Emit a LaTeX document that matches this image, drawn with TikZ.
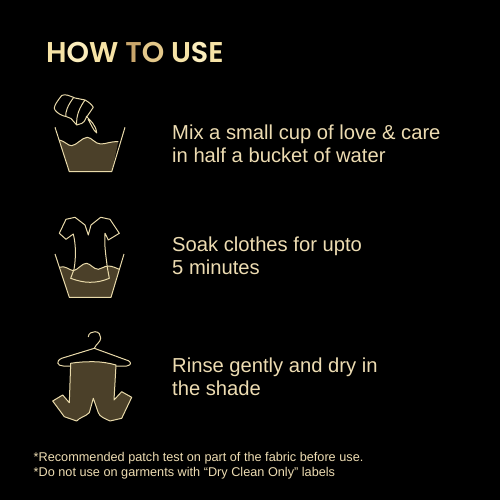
\documentclass[tikz,border=0pt]{standalone}
\usepackage{fontspec}
\setmainfont{Liberation Sans}
\newfontfamily\titlefont{Poppins SemiBold}
\usetikzlibrary{calc}
\definecolor{cream}{HTML}{EDDCB2}
\definecolor{iconline}{HTML}{E9DAAA}
\definecolor{water}{HTML}{4B4029}
\definecolor{goldA}{HTML}{F6E3A6}
\definecolor{goldB}{HTML}{FBEDBC}
\definecolor{goldC}{HTML}{C9A66B}
\definecolor{goldD}{HTML}{E4C88A}
\tikzset{
    steptext/.style={anchor=base west, align=left, text=cream, font=\fontsize{20.2}{22.4}\selectfont},
    notetext/.style={anchor=base west, text=cream, font=\fontsize{12.7}{16}\selectfont},
    iconstroke/.style={draw=iconline, line width=1pt, line join=round},
    iconfill/.style={iconstroke, fill=water}
}
\begin{document}
\begin{tikzpicture}[x=1pt, y=-1pt]
    \fill[black] (0,0) rectangle (500,500);
    \useasboundingbox (0,0) rectangle (500,500);

    % Title
    \node[anchor=base west, inner sep=0pt, font=\titlefont\fontsize{28.6}{30}\selectfont] (title) at (46,63)
        {\textcolor{goldA}{H}\textcolor{goldB}{O}\textcolor{goldA}{W} \textcolor{goldC}{T}\textcolor{goldD}{O} \textcolor{goldA}{U}\textcolor{goldB}{S}\textcolor{goldA}{E}};

    % Step texts (base is the last line)
    \node[steptext, inner sep=0pt] (mix) at (172,162.3) {Mix a small cup of love \& care\\in half a bucket of water};
    \node[steptext, inner sep=0pt] (soak) at (172,274.3) {Soak clothes for upto\\5 minutes};
    \node[steptext, inner sep=0pt] (rinse) at (172,395.3) {Rinse gently and dry in\\the shade};

    % Footnotes
    \node[notetext, inner sep=0pt] (note1) at (33.5,461) {*Recommended patch test on part of the fabric before use.};
    \node[notetext, inner sep=0pt] (note2) at (33.5,476.7) {*Do not use on garments with “Dry Clean Only” labels};

    % Bucket with cup
    \fill[water] (59.3,140) .. controls (65,141) and (68,146) .. (71.7,145.7)
        .. controls (77,145) and (82,137.5) .. (87.3,137.3)
        .. controls (92,137.5) and (95,144) .. (100.7,144)
        .. controls (106,144) and (112,141) .. (118.3,141.7)
        -- (111.7,171.7) -- (69.3,171.7) -- cycle;
    \draw[iconstroke] (59.3,140) .. controls (65,141) and (68,146) .. (71.7,145.7)
        .. controls (77,145) and (82,137.5) .. (87.3,137.3)
        .. controls (92,137.5) and (95,144) .. (100.7,144)
        .. controls (106,144) and (112,141) .. (118.3,141.7);
    \draw[iconstroke] (55,127.3) -- (69.3,171.7) -- (111.7,171.7) -- (125,127.3);
    \draw[iconstroke] (61.7,95.5) .. controls (55,104) and (53,108) .. (55,110)
        .. controls (57,113) and (62,116) .. (66,116.5) -- (71,118.5) -- (76.7,125)
        .. controls (80,124) and (84,124) .. (86,118) -- (93.3,107.3)
        .. controls (92,105) and (89,102) .. (85,100)
        -- (75,98) .. controls (70,96) and (65,93.5) .. (61.7,95.5);
    \draw[iconstroke] (73.3,98) .. controls (68,105) and (65,112) .. (66,116.5);
    \draw[iconstroke] (85,100) .. controls (80,107) and (76,115) .. (76.7,125);
    \draw[iconstroke] (86,116) .. controls (90,120) and (96,125) .. (96.7,133)
        .. controls (93,130) and (91,124) .. (88,119);

    % Bucket with shirt
    \fill[water] (59.3,267.3) .. controls (65,265) and (69,270) .. (73.3,270.7)
        .. controls (78,270) and (82,263) .. (86.7,263.3)
        .. controls (91,264) and (93,269) .. (98.3,269.3)
        .. controls (102,269) and (104,266) .. (108.3,266)
        .. controls (112,266) and (116,268) .. (119.3,269.3)
        -- (111,297.3) -- (69.3,297.3) -- cycle;
    \draw[iconstroke] (59.3,267.3) .. controls (65,265) and (69,270) .. (73.3,270.7)
        .. controls (78,270) and (82,263) .. (86.7,263.3)
        .. controls (91,264) and (93,269) .. (98.3,269.3)
        .. controls (102,269) and (104,266) .. (108.3,266)
        .. controls (112,266) and (116,268) .. (119.3,269.3);
    \draw[iconstroke] (55,254) -- (69.3,297.3) -- (111,297.3) -- (124,254);
    \draw[iconstroke] (70.7,278.3) .. controls (78,281) and (84,282.3) .. (90,282.3)
        .. controls (97,282.3) and (103,281) .. (109.3,278.3)
        -- (107.3,267.3) .. controls (106,256) and (104,245) .. (105,233.3)
        -- (108.3,240) -- (119.3,233.3) -- (110,219.3) -- (100.7,217.3) -- (91,225)
        -- (88.3,235) -- (85,225) -- (75,217.3) -- (66,219.3) -- (59.3,233.3)
        -- (66,239.3) -- (73.3,234) .. controls (76,245) and (76,258) .. (74,269.3) -- cycle;

    % Hanger with shorts
    \draw[iconstroke] (88.3,337) .. controls (88.5,333) and (92,331.7) .. (95,331.7)
        .. controls (99,331.7) and (100.7,335) .. (100.7,338)
        .. controls (100.7,342) and (96,344) .. (94.3,348.3);
    \draw[iconstroke] (94.3,348.3) -- (128.3,360.7) .. controls (131,362) and (132,365) .. (126.7,366)
        -- (63.3,366) .. controls (57,366) and (55.5,361) .. (61.7,358.3) -- cycle;
    \draw[iconfill] (70.7,363.3) .. controls (78,362) and (86,361.7) .. (93.3,361.7)
        .. controls (101,361.7) and (109,363) .. (116,365)
        -- (114,400) -- (121.7,391.7) -- (131.7,397.3) -- (121.7,418.3) -- (110,421)
        .. controls (104,418) and (100,417) .. (98.3,412.7) -- (93.3,398.3) -- (89.3,412.7)
        .. controls (85,417) and (80,417) .. (76.7,421) -- (64.3,416.7) -- (52.7,401)
        -- (62.7,395) -- (69.3,402.7) -- cycle;
\end{tikzpicture}
\end{document}
